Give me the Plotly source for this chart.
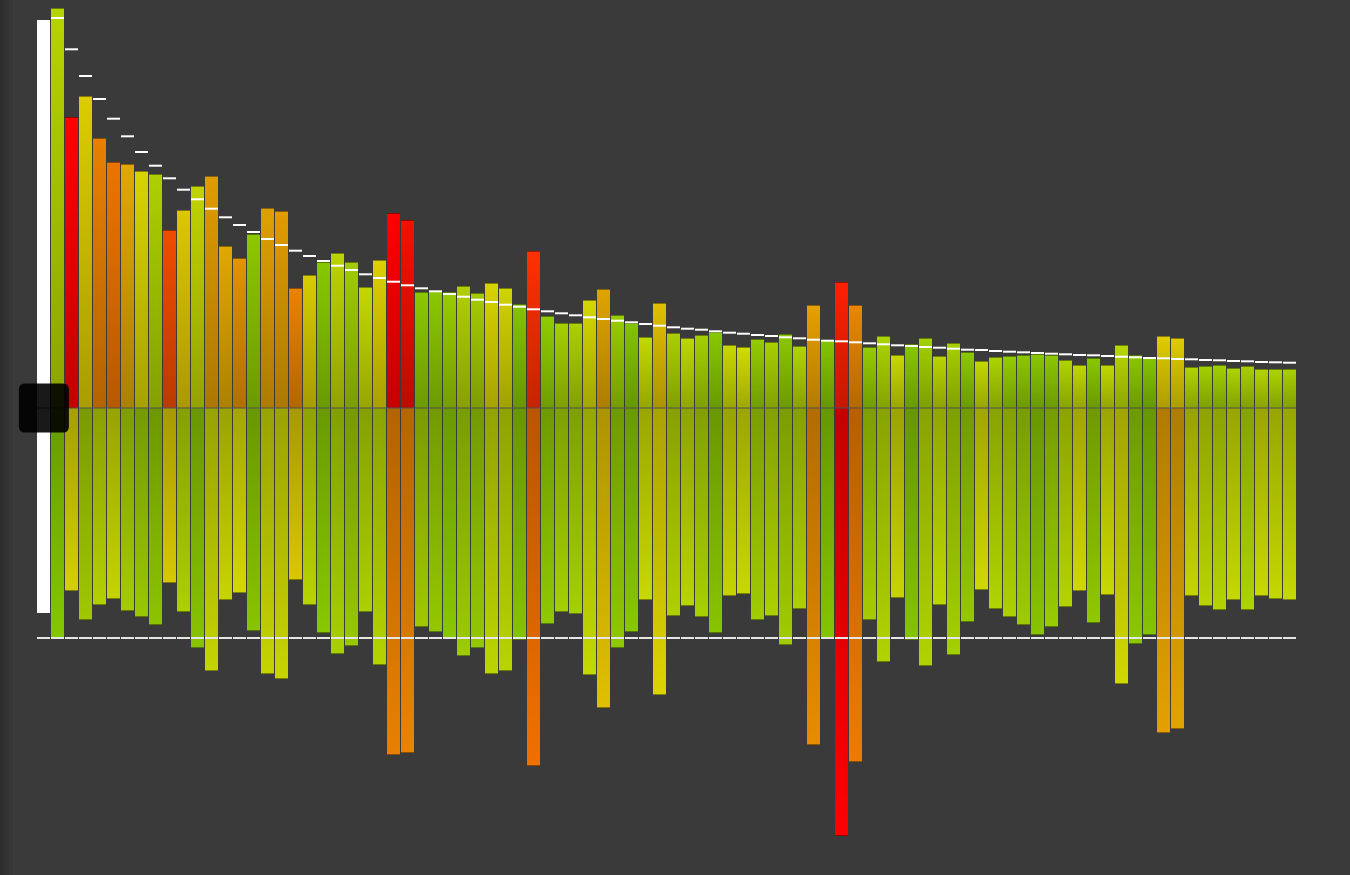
import plotly.graph_objects as go

# ---------------- data ----------------
TOP_VALUES = [
    400, 291, 312, 270, 246, 244, 237, 234, 178, 198,
    222, 232, 162, 150, 174, 200, 197, 120, 133, 146,
    155, 146, 121, 148, 195, 188, 116, 117, 116, 122,
    115, 125, 120, 104, 157, 92, 85, 85, 108, 119,
    93, 85, 71, 105, 75, 70, 73, 76, 63, 61,
    69, 66, 74, 62, 103, 68, 126, 103, 61, 72,
    53, 64, 70, 52, 65, 56, 47, 51, 52, 53,
    54, 53, 48, 43, 50, 43, 63, 53, 50, 72,
    70, 41, 42, 43, 40, 42, 39, 39, 39,
]

TOP_TARGETS = [
    390, 358.7, 332, 309, 289.3, 271.7, 256, 242.3, 229.7, 218.3,
    208.7, 199.3, 190.7, 183, 176, 169, 163, 157.3, 152, 147,
    142.3, 138, 133.7, 130, 126.3, 122.7, 119.7, 116.7, 114, 111.3,
    108.3, 106, 103.3, 101.3, 98.7, 96.7, 94.7, 92.7, 90.7, 89,
    87.3, 85.7, 84, 82.3, 80.7, 79.3, 78.3, 76.7, 75.3, 74.3,
    73, 72, 70.7, 69.7, 68.3, 67.3, 66.7, 65.7, 64.7, 63.7,
    62.7, 62, 61, 60.3, 59.3, 58.3, 58, 57, 56.3, 55.7,
    55, 54.3, 53.7, 53, 52.7, 52, 51.3, 50.7, 50, 49.7,
    49, 48.7, 48, 47.7, 47, 46.7, 46, 45.7, 45.3,
]

BOTTOM_VALUES = [
    231, 183, 212, 197, 191, 203, 209, 217, 175, 204,
    240, 263, 192, 185, 223, 266, 271, 172, 197, 225,
    246, 238, 204, 257, 347, 345, 219, 224, 231, 248,
    240, 266, 263, 232, 358, 216, 204, 206, 267, 300,
    240, 224, 192, 287, 208, 198, 209, 225, 188, 186,
    212, 208, 237, 201, 337, 230, 428, 354, 212, 254,
    190, 232, 258, 197, 247, 214, 182, 201, 209, 217,
    227, 219, 199, 183, 215, 187, 276, 236, 227, 325,
    321, 188, 198, 202, 192, 202, 188, 191, 192,
]

BOTTOM_TARGET = 230

SUMMARY_UP = 388
SUMMARY_DOWN = 205

# ---------------- styles ----------------
TOP_COLORS = [
    '#b6d400', '#ff0000', '#dccc00', '#e88000', '#ec7400', '#e0a800', '#d8d400', '#acd000', '#f04c00', '#dcc800',
    '#c0d400', '#e09c00', '#e0a800', '#e09400', '#8cc800', '#e0a000', '#e09c00', '#e88400', '#d8cc00', '#88c800',
    '#bcd400', '#a0cc00', '#c4d800', '#dcd000', '#ff0000', '#f41000', '#8cc800', '#8cc800', '#98cc00', '#b0d000',
    '#a4cc00', '#d8d400', '#d0d400', '#84c400', '#ff3000', '#90cc00', '#a4d000', '#acd000', '#d4d800', '#e0a400',
    '#98cc00', '#84c400', '#c4d800', '#e0c000', '#a8d000', '#bcd800', '#a4d000', '#88c800', '#c8d800', '#d0dc00',
    '#94cc00', '#a8d000', '#8cc800', '#b0d400', '#e8a000', '#84c400', '#ff2000', '#e88800', '#94cc00', '#acd400',
    '#c8d800', '#88c800', '#a4d000', '#b8d400', '#a8d000', '#8cc800', '#c4d800', '#acd400', '#94cc00', '#8cc800',
    '#88c800', '#8cc800', '#b0d400', '#c0d800', '#88c800', '#c0d800', '#b8d800', '#8cc800', '#84c400', '#e0cc00',
    '#e0cc00', '#b0d400', '#a4d000', '#a0d000', '#acd400', '#a8d000', '#b4d400', '#acd400', '#a8d000',
]

BOTTOM_COLORS = [
    '#84c800', '#d4d000', '#a0c800', '#b4d000', '#c4d400', '#a4cc00', '#98c800', '#8cc400', '#d8c800', '#acd000',
    '#88c400', '#c4d400', '#c8d400', '#d4d800', '#88c400', '#c4d400', '#c8d400', '#d8c800', '#b8d400', '#88c800',
    '#a8d000', '#98c800', '#acd000', '#b4d400', '#e88000', '#e88400', '#a0c800', '#94c800', '#88c800', '#9ccc00',
    '#94c800', '#bcd400', '#b8d400', '#84c400', '#f07000', '#90c800', '#a4d000', '#a4d000', '#c4d800', '#e0c000',
    '#90c800', '#88c800', '#c8d800', '#dcd400', '#b0d000', '#b8d400', '#a8d000', '#88c400', '#c4d400', '#c8d800',
    '#a0cc00', '#acd000', '#a0cc00', '#acd000', '#e88c00', '#84c400', '#ff0000', '#ec7c00', '#a4cc00', '#b0d400',
    '#c8d400', '#84c400', '#b0d400', '#bcd800', '#a4d000', '#94c800', '#d0d800', '#b0d400', '#acd000', '#9ccc00',
    '#88c400', '#98cc00', '#b4d400', '#d0d800', '#90c800', '#c8d800', '#d0d800', '#8cc800', '#84c400', '#e4a000',
    '#e0a400', '#c4d400', '#b8d400', '#b4d400', '#c4d800', '#acd400', '#c8d800', '#c4d800', '#c4d800',
]

BG = '#3a3a3a'
PX_PER_UNIT_X = 14.0       # one column = 14 px
HALF = 6.5 / PX_PER_UNIT_X  # bar half-width (13 px bars, 1 px gap)
BASE_SHADE = 0.77
W, H = 1350, 875
DASH_SIZE = 13 / 1.4        # plotly's line-ew symbol is 1.4 * size long


def shade(hexc, f):
    r, g, b = int(hexc[1:3], 16), int(hexc[3:5], 16), int(hexc[5:7], 16)
    return 'rgb(%d,%d,%d)' % (round(r * f), round(g * f), round(b * f))


fig = go.Figure()

# summary (white) column at index 0
fig.add_trace(go.Scatter(
    x=[-HALF, -HALF, HALF, HALF, -HALF],
    y=[-SUMMARY_DOWN, SUMMARY_UP, SUMMARY_UP, -SUMMARY_DOWN, -SUMMARY_DOWN],
    fill='toself', fillcolor='#ffffff', mode='lines', line=dict(width=0),
    hoverinfo='skip'))

n = len(TOP_VALUES)
idx = list(range(1, n + 1))

for k in range(n):
    i = idx[k]
    x0, x1 = i - HALF, i + HALF
    v = TOP_VALUES[k]
    c = TOP_COLORS[k]
    fig.add_trace(go.Scatter(
        x=[x0, x0, x1, x1, x0], y=[0, v, v, 0, 0],
        fill='toself', mode='lines', line=dict(width=0),
        fillgradient=dict(type='vertical',
                          colorscale=[[0, shade(c, BASE_SHADE)], [1, c]]),
        hoverinfo='skip'))
    b = BOTTOM_VALUES[k]
    cb = BOTTOM_COLORS[k]
    fig.add_trace(go.Scatter(
        x=[x0, x0, x1, x1, x0], y=[0, -b, -b, 0, 0],
        fill='toself', mode='lines', line=dict(width=0),
        fillgradient=dict(type='vertical',
                          colorscale=[[0, cb], [1, shade(cb, BASE_SHADE)]]),
        hoverinfo='skip'))

# thin darker edges at bar tips
fig.add_trace(go.Scatter(
    x=idx, y=[v - 0.5 for v in TOP_VALUES], mode='markers', hoverinfo='skip',
    marker=dict(symbol='line-ew', size=DASH_SIZE,
                line=dict(width=1, color=[shade(c, 0.6) for c in TOP_COLORS]))))
fig.add_trace(go.Scatter(
    x=idx, y=[-b + 0.5 for b in BOTTOM_VALUES], mode='markers', hoverinfo='skip',
    marker=dict(symbol='line-ew', size=DASH_SIZE,
                line=dict(width=1, color=[shade(c, 0.6) for c in BOTTOM_COLORS]))))

# target dashes
fig.add_trace(go.Scatter(
    x=idx, y=TOP_TARGETS, mode='markers', hoverinfo='skip',
    marker=dict(symbol='line-ew', size=DASH_SIZE, line=dict(width=2, color='#ffffff'))))
fig.add_trace(go.Scatter(
    x=[0] + idx, y=[-BOTTOM_TARGET] * (n + 1), mode='markers', hoverinfo='skip',
    marker=dict(symbol='line-ew', size=DASH_SIZE, line=dict(width=2, color='#e6e6e6'))))

# baseline
fig.add_shape(type='line', x0=-HALF, x1=n + HALF, y0=0, y1=0,
              line=dict(color='#505050', width=1), layer='above')

# rounded handle on the baseline
hx, hy, r = 25 / PX_PER_UNIT_X, 24.5, 6
rx = r / PX_PER_UNIT_X
cx, cy = 0.03, 0
path = (f'M {cx-hx+rx},{cy+hy} L {cx+hx-rx},{cy+hy} Q {cx+hx},{cy+hy} {cx+hx},{cy+hy-r} '
        f'L {cx+hx},{cy-hy+r} Q {cx+hx},{cy-hy} {cx+hx-rx},{cy-hy} '
        f'L {cx-hx+rx},{cy-hy} Q {cx-hx},{cy-hy} {cx-hx},{cy-hy+r} '
        f'L {cx-hx},{cy+hy-r} Q {cx-hx},{cy+hy} {cx-hx+rx},{cy+hy} Z')
fig.add_shape(type='path', path=path, fillcolor='rgba(0,0,0,0.9)',
              line=dict(width=0), layer='above')

# darker left edge of the backdrop
for a, b_, alpha in [(0, 3, 0.22), (3, 6, 0.15), (6, 9, 0.09), (9, 13, 0.04)]:
    fig.add_shape(type='rect', xref='paper', yref='paper',
                  x0=a / W, x1=b_ / W, y0=0, y1=1,
                  fillcolor=f'rgba(0,0,0,{alpha})', line=dict(width=0), layer='below')

x_min = -43.5 / PX_PER_UNIT_X
fig.update_layout(
    width=W, height=H,
    margin=dict(l=0, r=0, t=0, b=0),
    paper_bgcolor=BG, plot_bgcolor=BG,
    showlegend=False,
    xaxis=dict(range=[x_min, x_min + W / PX_PER_UNIT_X], visible=False, fixedrange=True),
    yaxis=dict(range=[408 - H, 408], visible=False, fixedrange=True),
)

fig.write_html(
    'out.html',
    config={'displayModeBar': False},
    post_script="document.body.style.margin='0';document.body.style.background='%s';"
                "document.body.style.overflow='hidden';" % BG,
)
